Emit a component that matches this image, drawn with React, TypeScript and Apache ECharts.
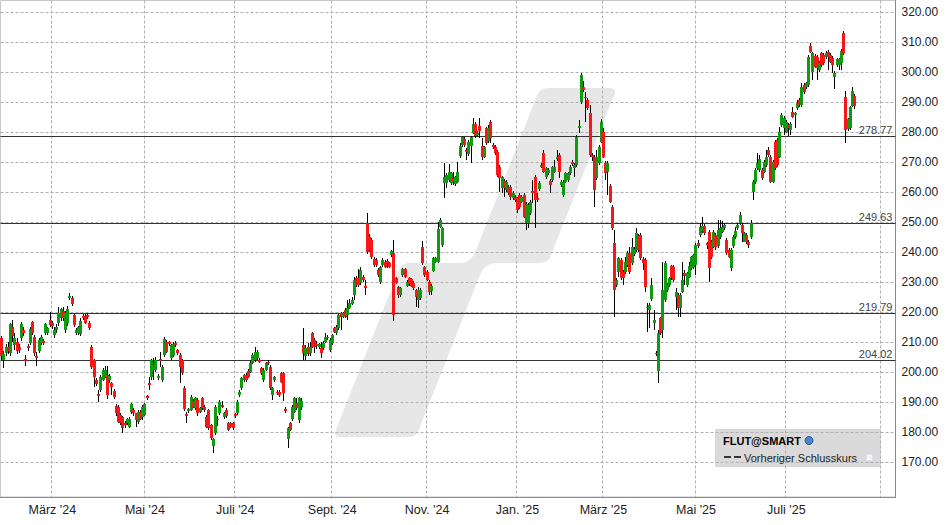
import React, { useEffect, useRef } from "react";
import * as echarts from "echarts";

// ---- categories (US trading days) ----
const HOLIDAYS = [
  "2024-02-19", "2024-03-29", "2024-05-27", "2024-06-19", "2024-07-04", "2024-09-02",
  "2024-11-28", "2024-12-25", "2025-01-01", "2025-01-09", "2025-01-20", "2025-02-17",
  "2025-04-18", "2025-05-26", "2025-06-19", "2025-07-04", "2025-09-01",
];
const FIRST_DAY = "2024-01-29";
const LAST_DAY = "2025-09-10";
const MONTH_NAMES = ["Jan.", "Feb.", "März", "Apr.", "Mai", "Juni", "Juli", "Aug.", "Sept.", "Okt.", "Nov.", "Dez."];
const HIDDEN_LABEL_MONTHS = ["2025-09"];

// ---- y axis tick labels and reference levels ----
const Y_GRID_LEVELS = [170, 180, 190, 200, 210, 220, 230, 240, 250, 260, 270, 280, 290, 300, 310, 320];
const REF_LEVELS = [278.77, 249.63, 219.79, 204.02];

// ---- OHLC data: [open, close, low, high] ----
const SEG_2024_FEB_AUG = [
  [211.5,205.5,204,212],[204,206,201.5,207],[206.5,208.5,205.5,209.5],[208.5,207,206,210],[206.5,216,205.5,216.5],
  [215,212,210,217.5],[209,211.5,207.5,213],[210,207,206,211.5],[208.5,207.5,206.5,209.5],[211.5,216,210.5,216.7],
  [214,213,212,215],[204.3,203.8,202,205.7],[208.8,208,207,209.5],[209.8,214.2,209,215],[216.7,213.1,212.5,217],
  [211.8,206.2,205.5,212.5],[205.2,204.6,202,206.8],[207,210.7,206.5,211.5],[209.6,211.6,209,212.5],[210.5,209.8,209,211],
  [212.9,216,212.5,216.5],[213,214.6,212.5,215],[217.3,215.7,215,220],[216.5,215.5,214.5,217],[212.3,214,211.5,215],
  [214,215,213,216],[216.2,219.6,215.5,221.8],[217.9,220.9,217,221.5],[220.4,217.9,217,221.8],[214,219.8,213,220.5],
  [216.4,221.1,215.5,222],[224.8,225.5,224,226.2],[224.8,222.7,222,225.2],[219,215.7,215,219.5],[213,214,212.5,214.8],
  [212.9,215.1,212.3,215.5],[212.7,217.1,212,218],[218.7,217.9,217.3,219.5],[218.7,216.4,216,219.3],[218.9,218.4,217.8,219.6],
  [216.4,214.6,214,217],[208.4,201.8,201,209],[204,198.4,194.9,204.5],[197.3,196,195.5,198],[192.6,192,190.1,194],
  [194,198.4,193.5,199],[197.3,200.7,197,201.2],[198.4,200.7,198,202],[199,192.3,191,202],[197.3,198.7,196.5,199.5],
  [196.2,195.1,192.3,196.8],[193.7,191.6,191,194.5],[188.7,186.2,185.5,189.3],[188.4,183.4,183,189],[185.7,182.9,182.3,186.3],
  [185,181.2,179.8,185.5],[183.1,182.3,181.5,183.8],[182.9,184.2,182.3,184.8],[181.8,184.5,181.3,185],[186.7,189.3,186,189.8],
  [187.3,186.2,185.5,188],[186.2,184,181.8,186.3],[183.4,186.7,182.8,187.2],[186.7,184.5,184,187.3],[185.1,188.4,184,189],
  [185.7,189.3,185.3,189.8],[191.9,191.3,190.8,192.3],[196.2,195.6,194,198.4],[198.4,204,197.5,204.5],[200.7,202.3,197.3,204.6],
  [200.7,204,200,205],[198,198.8,197.5,199.5],[204.2,203.7,201.8,206.8],[197.3,201.6,196.8,202.2],[205.7,210.9,205,211.6],
  [210.1,206.8,206.2,210.8],[210,209.3,208.8,210.5],[204.6,209,204,209.5],[205.7,209.3,205,210],[209.6,209,208.5,210.2],
  [207.2,206.3,205.8,207.8],[205.7,201.8,196.2,206.3],[204,199.6,199,204.5],[194.6,187.6,187,195.2],[186,185.4,183.1,186.8],
  [186.9,187.6,186.5,188],[187.3,191.8,187,192.2],[190.4,188.4,188,191],[188,191.2,187.5,191.8],[190.7,186.2,185.5,191.2],
  [186.8,187.9,186.3,188.5],[191.2,187.9,187.3,191.8],[188.4,187.3,186.8,189],[185.1,181.8,181.2,185.6],[187.3,181.2,180.6,187.8],
  [182.3,177.9,177.3,182.8],[175.3,177.6,173.1,178],[179.6,188.4,179,189],[184.5,183.9,182,185.2],[186.2,190.1,185.6,190.7],
  [189,188.4,187.9,190.3],[185.1,186.2,184.5,186.8],[187.3,185.3,184.8,188],[182.9,180.7,180.2,183.5],[182.9,181.8,181.2,183.3],
  [182.9,181.2,180.6,183.5],[186,185.4,184.8,186.5],[186.2,190.1,185.8,190.6],[192.3,193.4,191.8,194],[194.6,197.9,194,198.4],
  [199,197.3,196.8,199.5],[199,197.3,196.8,199.6],[200.4,198.4,198,201],[200.1,203.1,199.6,203.6],[203.1,205.7,202.6,206.2],
  [204,206.8,203.5,208.4],[204.6,206.8,204,207.3],[204,203.5,203,204.6],[201.2,199.6,199,201.8],[197.3,200.7,196.8,201.2],
  [200.7,202.9,200.2,203.4],[203.4,202.9,202.4,204],[201.6,194.6,194,202.2],[192.3,194.6,190.7,195.1],[197.3,198.2,196.8,198.7],
  [193.4,192.9,192.4,194],[193.4,192.3,191.8,193.9],[199.6,196.8,196.3,200.1],[199.6,192.9,190.4,200.1],[187.6,187,186.3,188.2],
  [177.6,181.2,174.6,181.7],[182.9,180.7,180.2,183.4],[184.2,188.4,183.7,188.9],[186.8,191.2,186.3,191.7],[189.6,187.9,187.4,191.5],
  [184,191.2,182.9,191.7],[188.5,190.5,187.5,191.5],
];
const SEG_2024_AUG_NOV = [
  [209,206.5,204,214.6],[205.2,207.9,204,209],[208.5,206,205.5,209.8],[206.2,208.5,205.5,210],[212.9,208.4,207.9,213.5],
  [210.7,208.4,206.2,211.2],[209.5,208.6,207.7,210.4],[208.4,209.2,207.8,209.8],[207.9,206.2,204.6,210.1],[207.9,209.6,207.4,210.2],
  [210.1,211.8,209.6,212.9],[211.8,211.3,210.8,212.3],[207.3,210.7,206.8,211.2],[209.6,212.3,209.1,212.8],[214.6,213.4,212.9,215.1],
  [212.9,215.1,212.4,215.6],[214.6,219,214,219.5],[219.6,218.4,214,220.1],[218.4,219.6,217.9,220.1],[220.7,218.4,217.9,221.2],
  [219,221.2,217.3,224],[221.5,223,221,224.5],[222.7,224,222.2,225.1],[225.7,230.7,224,231.8],[231.2,229,228.5,232],
  [231.5,229,228.5,234.2],[229.6,234,229,234.9],[231.8,230.7,230,232.5],[228.7,227.9,225.7,230.7],[249.6,240.1,239.5,253.1],
  [245,240.7,240,246],[244,238.4,237.8,244.6],[237.6,235.7,235.1,238.2],[237.3,235.7,235.1,238],[234,232.3,231.8,234.6],
  [230.1,234.9,229.5,235.5],[235.7,237.3,235.1,237.9],[236.8,235.1,234.6,237.4],[237,236.5,234.6,237.6],[236.2,235.1,234.6,236.8],
  [239,240.3,238.5,240.7],[239.6,219,217.1,244],[231.2,229.8,229.2,231.8],[228.2,225.7,224.6,228.8],[225.7,227.9,225.1,228.5],
  [232.3,234.2,231.8,234.8],[234.2,231.8,231.2,234.8],[228.7,230.1,228.2,230.7],[231.2,229.3,228.7,231.8],[230.9,228.7,228.2,231.4],
  [229.8,227.9,227.3,230.3],[227.3,224.9,221.8,227.8],[224,227.3,221.2,228.4],[224.6,227.3,224,227.9],[241.8,236.4,235.8,243.8],
  [234.9,232.3,231.8,235.5],[233.4,230.7,230.2,234],[230.1,226.8,225.7,230.7],[227.1,228.7,225.7,229.2],[233.8,237.9,233.3,238.5],
  [236.8,237.9,236.3,238.5],[236.8,247.6,236.3,250.1],[248.4,250.7,247.9,251.2],[242.2,247.9,241.7,248.4],
];
const SEG_2024_NOV_2025_MAR = [
  [262.9,265.1,257.9,269.6],[262.9,265.7,261.5,266.3],[264,266.8,263.4,269.4],[262.9,266.2,262.3,266.8],[264.6,263.4,262.3,266.8],
  [262.7,264.9,262.1,265.5],[263.4,266.8,262.9,270.1],[272,275.3,271.5,276.2],[275.7,278.2,275.1,278.8],[277.6,275.7,275.1,278.2],
  [274,273.5,270.7,274.6],[272.7,276.8,272.1,277.4],[275.3,278.2,269.6,278.8],[279.8,282.7,279.3,284.6],[282.7,278.7,278.1,283.3],
  [279,279.8,278.5,280.4],[282,280.4,277.9,284.6],[275.3,271.6,270.7,277.9],[271.6,274.9,271.5,275.5],[281.2,276.2,275.6,281.8],
  [277.1,281.2,276.5,282.3],[283.4,277.9,276.2,284],[275.7,274.9,274.3,276.3],[275.1,272.9,272.3,275.7],[273.4,265.7,265.1,274],
  [268.4,264.6,260.1,269],[261.2,264.9,259.6,265.5],[263.8,261.2,258.4,264.4],[260.7,263.4,260.1,264],[261.8,259.6,259.1,262.4],
  [261.8,258.4,257.3,262.4],[257.9,259.6,257.3,260.2],[258.4,257.3,256.7,259],[257.9,254,252.9,258.5],[259,255.1,254.5,259.6],
  [256.8,258.4,256.3,259],[259,251.8,251.2,259.6],[249.6,256,247.3,256.6],[249.6,255.7,247.9,256.3],[252.9,256.8,252.3,257.4],
  [260.4,259.6,256.2,264],[265.1,257.3,247.9,265.7],[258.1,257.3,256.8,259.6],[261,263.1,260.5,263.7],[268.4,269,267.9,269.6],
  [272.9,266.8,266.2,274],[265.1,267.9,264.5,268.5],[266.2,267.3,265.7,267.9],[263.8,262.3,259.6,264.4],[264,268.2,263.4,268.8],
  [266.8,268.4,266.2,270.7],[270.9,271.8,270.4,274],[272.3,266.8,264.6,273.1],[262.3,263.4,261.8,264],[259,263.4,258.4,264],
  [263.4,266.2,262.9,266.8],[264,266.2,263.4,266.8],[266.4,268.4,265.8,269],[270.1,269.3,268.8,270.7],[267.9,269,265.1,269.6],
  [269,278.4,268.4,279],[281.3,282,279.6,284],[290.1,299,289.5,299.8],[295.1,294,293.4,297],[291.2,291.8,283.4,293.2],
  [290.7,287.9,287.3,291.3],[286.2,272.3,271.8,289],[272.3,271.8,270.5,273],[271.8,260.7,255.1,272.4],[264.6,271.8,264,274],
  [269.6,275.1,269,275.7],[276.8,283.4,276.2,284.5],[280.1,271.8,271.2,281.2],[269.6,266.2,264,270.2],[266.8,269.6,259,270.2],
  [262,256.8,256.2,262.6],[255.1,247.9,247.3,255.7],[242.9,227.3,218.4,247.5],
];
const SEG_2025_MAR_MAY = [
  [229,230.7,228.4,231.3],[233.4,237.9,231.8,238.5],[237.3,231.2,230.7,237.9],[233.4,231.2,229,234],[233.4,236.8,232.8,238.4],
  [235.7,239.6,235.1,240.2],[239.6,233.4,232.8,241.8],[236.2,241.8,235.6,244.6],[239.3,241,238.7,241.6],[240.7,246.2,240.1,247.9],
  [245.3,240.7,240.1,245.9],[245.7,237.9,237.3,246.3],[237.6,236.2,234,238.2],[237.3,228.4,226.8,237.9],[221.8,221.2,213.4,222.9],
  [220.7,222.4,214.6,223],[224.3,229,223.7,231.2],[216.4,217.3,214,220.7],[206.3,205.9,205.3,207],[200.4,212.9,196.2,214],
  [217.9,212.9,212.3,218.5],[214,227.3,211.2,236.8],[224,236.4,223.4,236.9],[227.3,229,226.7,229.6],[229,231.2,228.4,231.8],
  [235.3,231.2,230.6,235.6],[235.1,230.7,230.1,235.7],[225.1,226.8,220.7,227.9],[225.7,221.2,218.4,226.3],[221.2,225.7,218.4,226.3],
  [226.8,230.7,226.2,236.7],[233.1,232,229,234],[229,232.9,228.4,233.5],[231.8,235.3,231.2,236.7],[234.6,238.2,234,238.8],
  [235.1,239,234.5,239.5],[235.7,242.3,232.3,242.9],[242.9,242,241.4,244],[245.7,248.2,245.1,249.6],[247.1,248.6,246.5,251.8],
  [248.6,246.2,245.6,249.2],[242.9,242.3,240.9,243.5],[246.8,234.6,230.1,247.4],[243.4,238.4,237.8,244],[241.8,246.8,241.2,247.4],
  [245.7,241.8,240.7,246.3],[242,247.3,241.4,250.7],[245.1,247.9,244.5,250.7],[246.8,248.4,246.2,250.4],[247.9,249,247.3,249.6],
  [244,239.6,239,244.6],[240.7,238.4,237.9,241.3],[234.6,240.7,233.8,241.3],[242,245.1,241.2,245.7],[245.1,247.1,244.5,248.4],
  [247.9,249,247.3,249.6],[249.6,252.3,249,253.4],[249,246.5,243.4,249.6],[243.4,246.2,243.4,246.8],[245.7,243.4,242.8,246.3],
  [243.4,242.3,241.5,244],[245.1,249.6,244.5,250.7],
];
const SEG_2025_JUN_AUG = [
  [260.1,263.4,257.3,264],[263.4,267.3,262.8,267.9],[267.9,269.6,267.3,272.9],[267.3,270.9,266.8,272.3],[267.3,264.6,264,267.9],
  [266.8,270.1,266.2,270.7],[269,271.8,268.4,274],[274,272.3,271.8,275.1],[271.8,263.4,262.9,272.4],[263.4,270.1,262.9,270.7],
  [276.8,267.9,267.3,277.3],[277.3,269,268.4,277.9],[271.8,280.1,271.2,281.8],[282.3,285.7,281.8,286.2],[281.2,284.6,279,285.2],
  [280.1,283.4,279.6,284],[282.3,281.2,278.8,282.9],[280.7,282.7,279,283.3],[286.8,285.1,284.6,288.4],[285.7,286.2,281.5,286.8],
  [287.9,289.6,287.3,290.7],[290.7,289,288.4,291.3],[289,294.9,288.4,296.2],[295.7,293.4,292.8,296.3],[294.9,296.2,294.3,296.8],
  [295.7,305.1,295.1,305.7],[308.7,306.8,306.2,309.8],[300.1,306.2,297.3,306.8],[305.3,301.8,301.2,305.9],[305.1,301.2,297.3,305.7],
  [300.7,303.1,300.1,303.7],[306.2,302.3,301.7,306.8],[305.7,302.9,302.3,306.3],[305.1,306.4,304.5,307],[306.8,305.1,300.7,307.3],
  [305.7,303.4,302.9,306.3],[304.6,302.3,299.6,305.2],[298.2,299.8,294.2,300.4],[302.3,304.2,301.8,304.8],[302.3,304.2,300.7,304.8],
  [302.9,307.1,300.7,307.7],[312.9,306.2,305.7,313.8],[291.8,280.7,276.4,293.8],[280.9,284.2,280.4,284.8],[281.2,288.2,280.7,288.8],
  [288.7,293.8,288.2,294.9],[292,288.7,287.8,292.6],
];

const CANDLES = [
  ...SEG_2024_FEB_AUG,
  ...SEG_2024_AUG_NOV,
  ...SEG_2024_NOV_2025_MAR,
  ...SEG_2025_MAR_MAY,
  ...SEG_2025_JUN_AUG,
];

const GREEN = "#0f9a0f";
const RED = "#f81616";
const FONT = '"Liberation Sans", Arial, Helvetica, sans-serif';

const LOGO_PATH =
  "M341,437 L409,437 Q416,437 418.6,430.5 L480,275 Q484.7,263 497,263 L540,263 Q548,263 550.6,256.5 " +
  "L614.4,94.5 Q617,88 609,88 L548,88 Q540,88 537.4,94.5 L475.7,251 Q471,263 459,263 L409,263 " +
  "Q401.7,263 399.1,269.5 L335.6,430.5 Q333,437 341,437 Z";

let logoRegistered = false;
function ensureLogo() {
  if (logoRegistered) return;
  echarts.graphic.registerShape("wmLogo", echarts.graphic.extendPath(LOGO_PATH, {}) as any);
  logoRegistered = true;
}

function buildDays(): string[] {
  const out: string[] = [];
  const [y0, m0, d0] = FIRST_DAY.split("-").map(Number);
  const [y1, m1, d1] = LAST_DAY.split("-").map(Number);
  const d = new Date(Date.UTC(y0, m0 - 1, d0));
  const end = Date.UTC(y1, m1 - 1, d1);
  while (d.getTime() <= end) {
    const wd = d.getUTCDay();
    const s = d.toISOString().slice(0, 10);
    if (wd !== 0 && wd !== 6 && !HOLIDAYS.includes(s)) out.push(s);
    d.setUTCDate(d.getUTCDate() + 1);
  }
  return out;
}

export default function App() {
  const ref = useRef<HTMLDivElement>(null);

  useEffect(() => {
    if (!ref.current) return;
    ensureLogo();
    const days = buildDays();
    const isMonthStart = (i: number) => i > 0 && days[i].slice(0, 7) !== days[i - 1].slice(0, 7);
    const isGridMonth = (i: number) => {
      if (!isMonthStart(i)) return false;
      const m = Number(days[i].slice(5, 7)) - 1;
      return m % 2 === 0;
    };
    const isLabelMonth = (i: number) => isGridMonth(i) && !HIDDEN_LABEL_MONTHS.includes(days[i].slice(0, 7));

    const chart = echarts.init(ref.current, undefined, { renderer: "svg" });

    const option: any = {
      animation: false,
      backgroundColor: "#ffffff",
      textStyle: { fontFamily: FONT },
      grid: {
        left: 0.5,
        top: 0.5,
        right: 52.5,
        bottom: 28,
        show: true,
        borderColor: "#c8c8c8",
        borderWidth: 1,
        backgroundColor: "transparent",
      },
      xAxis: {
        type: "category",
        data: days,
        boundaryGap: true,
        axisLine: { show: true, lineStyle: { color: "#8a8a8a", width: 1 } },
        axisTick: { show: false },
        axisLabel: {
          interval: (index: number) => isLabelMonth(index),
          formatter: (v: string) => `${MONTH_NAMES[Number(v.slice(5, 7)) - 1]} '${v.slice(2, 4)}`,
          color: "#222",
          fontSize: 12.5,
          fontFamily: FONT,
          margin: 6,
        },
        splitLine: {
          show: true,
          interval: (index: number) => isGridMonth(index),
          lineStyle: { color: "#b0b0b0", width: 1, type: [3, 2] },
        },
      },
      yAxis: {
        type: "value",
        position: "right",
        min: 158.35,
        max: 323.85,
        splitNumber: 16,
        scale: true,
        axisLine: { show: true, lineStyle: { color: "#8a8a8a", width: 1 } },
        axisTick: { show: false },
        splitLine: { show: false },
        axisLabel: {
          color: "#222",
          fontSize: 12,
          fontFamily: FONT,
          margin: 6,
          formatter: (v: number) => (Y_GRID_LEVELS.some((g) => Math.abs(g - v) < 0.01) ? v.toFixed(2) : ""),
        },
      },
      graphic: [
        {
          type: "wmLogo",
          x: 0,
          y: 0,
          silent: true,
          z: 0,
          style: { fill: "rgba(0,0,0,0.095)" },
        },
        {
          type: "group",
          z: 20,
          silent: true,
          children: [
            { type: "rect", shape: { x: 715, y: 429, width: 166, height: 38 }, style: { fill: "rgba(204,204,204,0.72)" } },
            {
              type: "text",
              x: 723,
              y: 441,
              style: { text: "FLUT@SMART", font: `bold 11px ${FONT}`, fill: "#000", verticalAlign: "middle" },
            },
            {
              type: "circle",
              shape: { cx: 809, cy: 440.5, r: 4 },
              style: { fill: "#4a86c8", stroke: "#27578f", lineWidth: 1 },
            },
            {
              type: "line",
              shape: { x1: 724, y1: 457, x2: 741, y2: 457 },
              style: { stroke: "#333", lineWidth: 2, lineDash: [7, 3] },
            },
            {
              type: "text",
              x: 744,
              y: 457.5,
              style: { text: "Vorheriger Schlusskurs", font: `11px ${FONT}`, fill: "#222", verticalAlign: "middle" },
            },
            {
              type: "rect",
              shape: { x: 866, y: 454, width: 7, height: 7 },
              style: { fill: "#f2f2fa", stroke: "#d4d4dc", lineWidth: 1 },
            },
          ],
        },
      ],
      series: [
        {
          name: "grid",
          type: "custom",
          z: 1,
          silent: true,
          data: Y_GRID_LEVELS.map((v) => [0, v]),
          encode: { x: 0, y: 1 },
          renderItem: (params: any, api: any) => {
            const cs = params.coordSys;
            const y = Math.round(api.coord([0, api.value(1)])[1]) + 0.5;
            return {
              type: "line",
              shape: { x1: cs.x, y1: y, x2: cs.x + cs.width, y2: y },
              style: { stroke: "#b0b0b0", lineWidth: 1, lineDash: [3, 2] },
            };
          },
        },
        {
          name: "levels",
          type: "custom",
          z: 2,
          silent: true,
          data: REF_LEVELS.map((v) => [0, v]),
          encode: { x: 0, y: 1 },
          renderItem: (params: any, api: any) => {
            const cs = params.coordSys;
            const v = api.value(1);
            const y = Math.round(api.coord([0, v])[1]) + 0.5;
            return {
              type: "group",
              children: [
                {
                  type: "line",
                  shape: { x1: cs.x, y1: y, x2: cs.x + cs.width, y2: y },
                  style: { stroke: "#333", lineWidth: 1 },
                },
                {
                  type: "text",
                  style: {
                    text: v.toFixed(2),
                    x: cs.x + cs.width - 3,
                    y: y - 1,
                    align: "right",
                    verticalAlign: "bottom",
                    font: `11px ${FONT}`,
                    fill: "#444",
                  },
                },
              ],
            };
          },
        },
        {
          name: "FLUT@SMART",
          type: "custom",
          z: 3,
          silent: true,
          data: CANDLES.map((c, i) => [i, c[0], c[1], c[2], c[3]]),
          encode: { x: 0, y: [1, 2, 3, 4] },
          renderItem: (params: any, api: any) => {
            const i = api.value(0);
            const o = api.value(1);
            const c = api.value(2);
            const l = api.value(3);
            const h = api.value(4);
            const pO = api.coord([i, o]);
            const yC = api.coord([i, c])[1];
            const yL = api.coord([i, l])[1];
            const yH = api.coord([i, h])[1];
            const x = Math.round(pO[0] - 0.5) + 0.5;
            const top = Math.round(Math.min(pO[1], yC));
            const bot = Math.round(Math.max(pO[1], yC));
            return {
              type: "group",
              children: [
                {
                  type: "line",
                  shape: { x1: x, y1: Math.round(yH), x2: x, y2: Math.round(yL) },
                  style: { stroke: "#000", lineWidth: 1 },
                },
                {
                  type: "rect",
                  shape: { x: x - 1.5, y: top, width: 3, height: Math.max(1, bot - top) },
                  style: { fill: c >= o ? GREEN : RED },
                },
              ],
            };
          },
        },
      ],
    };

    chart.setOption(option);
    return () => chart.dispose();
  }, []);

  return (
    <div
      ref={ref}
      style={{ position: "absolute", left: 0, top: 0, width: 948, height: 525, background: "#fff" }}
    />
  );
}
